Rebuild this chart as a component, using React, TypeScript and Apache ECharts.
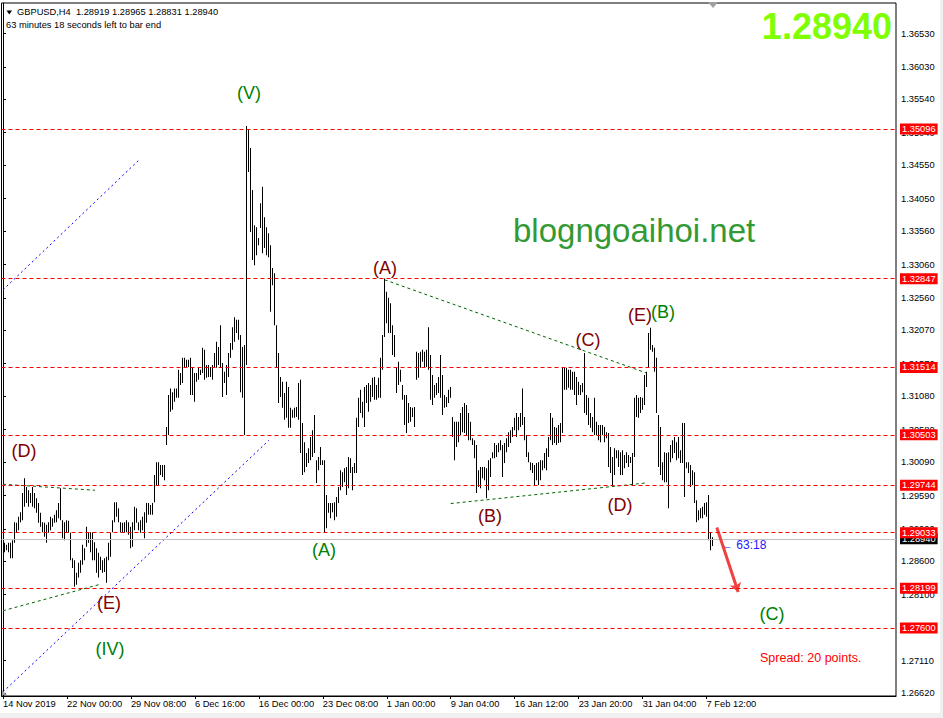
import React, { useEffect, useRef } from 'react';
import * as echarts from 'echarts';

// ---- data (GBPUSD H4 bars: highs / lows) ----
const highs: number[] = [
  1.2888, 1.2888, 1.2885, 1.2888, 1.2888, 1.2892, 1.2919, 1.2918, 1.2927, 1.2934,
  1.2963, 1.2985, 1.2972, 1.2967, 1.2963, 1.2972, 1.2963, 1.2955, 1.2948, 1.2933,
  1.2919, 1.2918, 1.2915, 1.2919, 1.2927, 1.2925, 1.2930, 1.2937, 1.2948, 1.2970,
  1.2922, 1.2919, 1.2922, 1.2921, 1.2903, 1.2865, 1.2862, 1.2843, 1.2858, 1.2862,
  1.2885, 1.2880, 1.2912, 1.2904, 1.2904, 1.2904, 1.2889, 1.2880, 1.2873, 1.2867,
  1.2862, 1.2865, 1.2867, 1.2888, 1.2903, 1.2922, 1.2949, 1.2949, 1.2940, 1.2919,
  1.2918, 1.2919, 1.2922, 1.2919, 1.2912, 1.2919, 1.2942, 1.2940, 1.2919, 1.2922,
  1.2927, 1.2934, 1.2948, 1.2948, 1.2945, 1.2948, 1.2990, 1.3009, 1.3009, 1.3005,
  1.3005, 1.3005, 1.3062, 1.3110, 1.3120, 1.3114, 1.3120, 1.3120, 1.3148, 1.3143,
  1.3166, 1.3166, 1.3163, 1.3163, 1.3166, 1.3151, 1.3143, 1.3143, 1.3151, 1.3148,
  1.3181, 1.3178, 1.3155, 1.3155, 1.3152, 1.3155, 1.3173, 1.3190, 1.3182, 1.3215,
  1.3158, 1.3145, 1.3155, 1.3173, 1.3188, 1.3212, 1.3227, 1.3223, 1.3223, 1.3200,
  1.3182, 1.3185, 1.3514, 1.3508, 1.3481, 1.3418, 1.3365, 1.3362, 1.3346, 1.3398,
  1.3423, 1.3377, 1.3362, 1.3353, 1.3335, 1.3301, 1.3293, 1.3215, 1.3173, 1.3137,
  1.3130, 1.3113, 1.3130, 1.3122, 1.3091, 1.3088, 1.3091, 1.3092, 1.3128, 1.3133,
  1.3068, 1.3039, 1.3023, 1.3030, 1.3047, 1.3057, 1.3080, 1.3012, 1.3017, 1.3032,
  1.3012, 1.3012, 1.2960, 1.2948, 1.2948, 1.2948, 1.2949, 1.2957, 1.2972, 1.2997,
  1.2994, 1.3000, 1.3002, 1.3017, 1.3015, 1.3002, 1.3008, 1.3076, 1.3106, 1.3118,
  1.3100, 1.3122, 1.3125, 1.3128, 1.3125, 1.3136, 1.3137, 1.3125, 1.3136, 1.3166,
  1.3200, 1.3285, 1.3265, 1.3256, 1.3248, 1.3215, 1.3200, 1.3152, 1.3160, 1.3148,
  1.3125, 1.3110, 1.3110, 1.3098, 1.3092, 1.3091, 1.3092, 1.3175, 1.3173, 1.3175,
  1.3178, 1.3175, 1.3178, 1.3212, 1.3170, 1.3140, 1.3125, 1.3128, 1.3137, 1.3170,
  1.3140, 1.3110, 1.3107, 1.3118, 1.3122, 1.3077, 1.3070, 1.3070, 1.3070, 1.3083,
  1.3092, 1.3098, 1.3095, 1.3083, 1.3070, 1.3045, 1.3042, 1.3035, 1.2997, 1.3002,
  1.3002, 1.3002, 1.3000, 1.3012, 1.3015, 1.3024, 1.3038, 1.3035, 1.3038, 1.3042,
  1.3035, 1.3038, 1.3045, 1.3054, 1.3057, 1.3062, 1.3076, 1.3083, 1.3077, 1.3083,
  1.3120, 1.3077, 1.3050, 1.3024, 1.3009, 1.3008, 1.3005, 1.3008, 1.3009, 1.3012,
  1.3012, 1.3023, 1.3030, 1.3047, 1.3083, 1.3076, 1.3062, 1.3061, 1.3065, 1.3068,
  1.3152, 1.3152, 1.3151, 1.3148, 1.3148, 1.3145, 1.3145, 1.3137, 1.3130, 1.3125,
  1.3128, 1.3173, 1.3110, 1.3106, 1.3083, 1.3077, 1.3106, 1.3070, 1.3065, 1.3065,
  1.3065, 1.3062, 1.3054, 1.3053, 1.3032, 1.3017, 1.3030, 1.3027, 1.3027, 1.3024,
  1.3027, 1.3020, 1.3024, 1.3020, 1.3017, 1.3023, 1.3106, 1.3110, 1.3106, 1.3107,
  1.3106, 1.3140, 1.3145, 1.3203, 1.3211, 1.3185, 1.3181, 1.3166, 1.3080, 1.3062,
  1.3009, 1.3024, 1.3023, 1.3024, 1.3035, 1.3042, 1.3047, 1.3039, 1.3047, 1.3027,
  1.3068, 1.3068, 1.3009, 1.3009, 1.3005, 1.2997, 1.2994, 1.2952, 1.2937, 1.2940,
  1.2942, 1.2948, 1.2949, 1.2960, 1.2903, 1.28965,
];

const lows: number[] = [
  1.2836, 1.2874, 1.2877, 1.2874, 1.2865, 1.2865, 1.2888, 1.2903, 1.2907, 1.2919,
  1.2922, 1.2942, 1.2948, 1.2942, 1.2948, 1.2942, 1.2940, 1.2933, 1.2918, 1.2912,
  1.2904, 1.2897, 1.2888, 1.2903, 1.2907, 1.2912, 1.2918, 1.2919, 1.2925, 1.2922,
  1.2895, 1.2892, 1.2903, 1.2903, 1.2862, 1.2850, 1.2822, 1.2825, 1.2836, 1.2843,
  1.2855, 1.2862, 1.2882, 1.2888, 1.2874, 1.2862, 1.2862, 1.2843, 1.2836, 1.2847,
  1.2843, 1.2844, 1.2828, 1.2862, 1.2867, 1.2904, 1.2919, 1.2927, 1.2919, 1.2904,
  1.2903, 1.2903, 1.2904, 1.2900, 1.2880, 1.2882, 1.2907, 1.2918, 1.2907, 1.2903,
  1.2907, 1.2895, 1.2918, 1.2930, 1.2930, 1.2930, 1.2949, 1.2975, 1.2975, 1.2990,
  1.2987, 1.2982, 1.3035, 1.3050, 1.3085, 1.3088, 1.3100, 1.3106, 1.3106, 1.3125,
  1.3128, 1.3151, 1.3151, 1.3152, 1.3110, 1.3110, 1.3100, 1.3130, 1.3133, 1.3140,
  1.3143, 1.3133, 1.3136, 1.3137, 1.3137, 1.3133, 1.3152, 1.3151, 1.3155, 1.3152,
  1.3107, 1.3128, 1.3110, 1.3137, 1.3166, 1.3178, 1.3190, 1.3203, 1.3193, 1.3114,
  1.3106, 1.3050, 1.3155, 1.3445, 1.3355, 1.3313, 1.3305, 1.3320, 1.3335, 1.3361,
  1.3323, 1.3331, 1.3320, 1.3317, 1.3235, 1.3275, 1.3215, 1.3152, 1.3098, 1.3107,
  1.3091, 1.3073, 1.3076, 1.3061, 1.3061, 1.3076, 1.3076, 1.3077, 1.3073, 1.3023,
  1.2990, 1.2994, 1.3002, 1.3008, 1.3012, 1.3017, 1.3023, 1.2978, 1.2997, 1.3005,
  1.3005, 1.2904, 1.2910, 1.2933, 1.2925, 1.2934, 1.2922, 1.2927, 1.2948, 1.2967,
  1.2972, 1.2979, 1.2960, 1.2970, 1.2993, 1.2967, 1.2993, 1.2993, 1.3062, 1.3083,
  1.3076, 1.3062, 1.3098, 1.3085, 1.3100, 1.3107, 1.3103, 1.3103, 1.3106, 1.3106,
  1.3148, 1.3197, 1.3218, 1.3203, 1.3203, 1.3170, 1.3167, 1.3113, 1.3125, 1.3130,
  1.3103, 1.3065, 1.3053, 1.3068, 1.3070, 1.3077, 1.3062, 1.3133, 1.3136, 1.3151,
  1.3160, 1.3152, 1.3152, 1.3148, 1.3103, 1.3095, 1.3106, 1.3110, 1.3113, 1.3106,
  1.3080, 1.3091, 1.3092, 1.3098, 1.3106, 1.3047, 1.3012, 1.3032, 1.3039, 1.3050,
  1.3054, 1.3053, 1.3050, 1.3042, 1.3042, 1.3035, 1.3015, 1.2963, 1.2972, 1.2970,
  1.2985, 1.2982, 1.2955, 1.2967, 1.2987, 1.3015, 1.3015, 1.3017, 1.3024, 1.3027,
  1.2987, 1.3008, 1.3024, 1.3032, 1.3038, 1.3047, 1.3057, 1.3047, 1.3057, 1.3062,
  1.3065, 1.3042, 1.3017, 1.3009, 1.2997, 1.2993, 1.2975, 1.2982, 1.2975, 1.2982,
  1.2997, 1.3000, 1.2997, 1.3017, 1.3042, 1.3035, 1.3038, 1.3035, 1.3038, 1.3039,
  1.3053, 1.3118, 1.3118, 1.3121, 1.3118, 1.3118, 1.3110, 1.3095, 1.3110, 1.3110,
  1.3114, 1.3083, 1.3080, 1.3065, 1.3061, 1.3054, 1.3050, 1.3050, 1.3042, 1.3039,
  1.3050, 1.3039, 1.3045, 1.3002, 1.2993, 1.2975, 1.2990, 1.3015, 1.3002, 1.2990,
  1.2990, 1.3000, 1.3008, 1.3002, 1.3008, 1.2975, 1.3017, 1.3077, 1.3076, 1.3083,
  1.3088, 1.3095, 1.3122, 1.3152, 1.3178, 1.3175, 1.3145, 1.3083, 1.3002, 1.2990,
  1.2982, 1.2979, 1.2979, 1.2940, 1.3009, 1.3015, 1.3023, 1.3012, 1.3015, 1.3008,
  1.3008, 1.2957, 1.3000, 1.2993, 1.2972, 1.2975, 1.2948, 1.2919, 1.2922, 1.2925,
  1.2925, 1.2930, 1.2927, 1.2892, 1.2877, 1.28831,
];

const timeLabels: string[] = [
  '14 Nov 2019', '22 Nov 00:00', '29 Nov 08:00', '6 Dec 16:00', '16 Dec 00:00', '23 Dec 08:00',
  '1 Jan 00:00', '9 Jan 04:00', '16 Jan 12:00', '23 Jan 20:00', '31 Jan 04:00', '7 Feb 12:00',
];
const barsPerLabel = 32;

const priceTicks: number[] = [
  1.3653, 1.3603, 1.3554, 1.3504, 1.3455, 1.3405, 1.3356, 1.3306, 1.3256, 1.3207, 1.3157,
  1.3108, 1.3058, 1.3009, 1.2959, 1.2909, 1.286, 1.281, 1.276, 1.2711, 1.2662,
];

const levels: number[] = [1.35096, 1.32847, 1.31514, 1.30503, 1.29744, 1.29033, 1.28199, 1.276];
const currentPrice = 1.2894;
const header = 'GBPUSD,H4\u00a0\u00a01.28919 1.28965 1.28831 1.28940';
const timerText = '63 minutes 18 seconds left to bar end';

// trend lines [barIndex, price]
const blueUpper: number[][] = [[0, 1.3268], [68, 1.3463]];
const blueLower: number[][] = [[0, 1.2664], [133, 1.3042]];
const greenDUpper: number[][] = [[0, 1.2976], [46, 1.2967]];
const greenDLower: number[][] = [[0, 1.2786], [49, 1.2826]];
const greenACUpper: number[][] = [[191, 1.3283], [322, 1.3143]];
const greenBDLower: number[][] = [[224, 1.2947], [322, 1.2978]];
const redArrow: number[][] = [[357.1, 1.2911], [367.8, 1.2814]];

const FONT = '"Liberation Sans", Arial, sans-serif';
const MAROON = '#800000';
const GREEN = '#008000';

const waveLabels: { t: string; x: number; y: number; c: string }[] = [
  { t: '(V)', x: 249, y: 93, c: GREEN },
  { t: '(A)', x: 385, y: 268, c: MAROON },
  { t: '(C)', x: 588, y: 340, c: MAROON },
  { t: '(E)', x: 640, y: 315, c: MAROON },
  { t: '(B)', x: 663, y: 312, c: GREEN },
  { t: '(D)', x: 24, y: 451, c: MAROON },
  { t: '(E)', x: 109, y: 603, c: MAROON },
  { t: '(IV)', x: 110, y: 649, c: GREEN },
  { t: '(A)', x: 324, y: 550, c: GREEN },
  { t: '(B)', x: 490, y: 516, c: MAROON },
  { t: '(D)', x: 620, y: 505, c: MAROON },
  { t: '(C)', x: 772, y: 614, c: GREEN },
];

function trendSeries(data: number[][], color: string, dash: number[], extra: any = {}) {
  return {
    type: 'line',
    data,
    symbol: 'none',
    silent: true,
    lineStyle: { color, width: 1, type: dash },
    z: 3,
    ...extra,
  };
}

function levelSeries(value: number, lineColor: string, boxColor: string, dash: any, z: number) {
  return {
    type: 'line',
    data: [[0, value]],
    symbol: 'none',
    silent: true,
    lineStyle: { opacity: 0 },
    z,
    markLine: {
      silent: true,
      symbol: 'none',
      precision: 5,
      animation: false,
      z,
      lineStyle: { color: lineColor, type: dash, width: 1, opacity: 1 },
      label: {
        show: true,
        position: 'end',
        distance: 4,
        formatter: value.toFixed(5),
        color: '#fff',
        backgroundColor: boxColor,
        fontSize: 9.3,
        fontFamily: FONT,
        padding: [1, 2, 0, 2],
        lineHeight: 10,
      },
      emphasis: { disabled: true },
      data: [{ yAxis: value }],
    },
  };
}

export default function App() {
  const ref = useRef<HTMLDivElement>(null);
  useEffect(() => {
    const chart = echarts.init(ref.current!, null, { renderer: 'svg' });
    const bars = highs.map((h, i) => [i, h, lows[i]]);

    const graphics: any[] = [
      { type: 'rect', shape: { x: 0, y: 713, width: 943, height: 5 }, style: { fill: '#f0f0f0' }, z: 100 },
      { type: 'rect', shape: { x: 940, y: 0, width: 3, height: 718 }, style: { fill: '#f0f0f0' }, z: 100 },
      { type: 'polygon', shape: { points: [[6.5, 10.5], [12, 10.5], [9.25, 14.5]] }, style: { fill: '#000' } },
      { type: 'polygon', shape: { points: [[708, 2], [718, 2], [713, 8]] }, style: { fill: '#a0a0a0' }, z: 50 },
      { type: 'polygon', shape: { points: [[2, 690], [2, 695], [7, 695]] }, style: { fill: '#a0a0a0' }, z: 50 },
      {
        type: 'text', x: 17, y: 12,
        style: { text: header, fill: '#000', font: `9.3px ${FONT}`, textAlign: 'left', textVerticalAlign: 'middle' },
      },
      {
        type: 'text', x: 6, y: 24.5,
        style: { text: timerText, fill: '#000', font: `9.3px ${FONT}`, textAlign: 'left', textVerticalAlign: 'middle' },
      },
      {
        type: 'text', x: 892, y: 26,
        style: { text: currentPrice.toFixed(5), fill: '#80ff00', font: `bold 36px ${FONT}`, textAlign: 'right', textVerticalAlign: 'middle' },
        z: 60,
      },
      {
        type: 'text', x: 513, y: 230,
        style: { text: 'blogngoaihoi.net', fill: '#339933', font: `33px ${FONT}`, textAlign: 'left', textVerticalAlign: 'middle' },
      },
      {
        type: 'text', x: 760, y: 658,
        style: { text: 'Spread: 20 points.', fill: '#ff0000', font: `12.5px ${FONT}`, textAlign: 'left', textVerticalAlign: 'middle' },
      },
      {
        type: 'text', x: 721, y: 545,
        style: { text: '← 63:18', fill: '#2020ff', font: `12px ${FONT}`, textAlign: 'left', textVerticalAlign: 'middle' },
      },
      ...waveLabels.map((w) => ({
        type: 'text', x: w.x, y: w.y,
        style: { text: w.t, fill: w.c, font: `18px ${FONT}`, textAlign: 'center', textVerticalAlign: 'middle' },
      })),
    ];

    chart.setOption({
      animation: false,
      backgroundColor: '#fff',
      grid: { left: 1, top: 3, width: 895, height: 693, show: true, borderColor: '#000', borderWidth: 1, backgroundColor: 'transparent' },
      xAxis: {
        type: 'value',
        min: -0.75,
        max: 446.75,
        position: 'bottom',
        axisLine: { show: true, onZero: false, lineStyle: { color: '#000', width: 1 } },
        axisTick: { show: true, length: 3, lineStyle: { color: '#000' }, customValues: timeLabels.map((_, k) => k * barsPerLabel) },
        axisLabel: {
          show: true,
          customValues: timeLabels.map((_, k) => k * barsPerLabel),
          formatter: (v: number) => timeLabels[Math.round(v / barsPerLabel)] ?? '',
          align: 'left',
          margin: 3,
          color: '#000',
          fontSize: 9.3,
          fontFamily: FONT,
        },
        splitLine: { show: false },
      },
      yAxis: {
        type: 'value',
        position: 'right',
        min: 1.26579,
        max: 1.36989,
        scale: true,
        axisLine: { show: true, lineStyle: { color: '#000', width: 1 } },
        axisTick: { show: true, length: 3, lineStyle: { color: '#000' }, customValues: priceTicks },
        axisLabel: {
          show: true,
          customValues: priceTicks,
          formatter: (v: number) => v.toFixed(5),
          margin: 5,
          color: '#000',
          fontSize: 9.3,
          fontFamily: FONT,
        },
        splitLine: { show: false },
      },
      series: [
        {
          type: 'custom',
          data: bars,
          encode: { x: 0, y: [1, 2] },
          silent: true,
          z: 2,
          renderItem: (params: any, api: any) => {
            const i = api.value(0);
            const top = api.coord([i, api.value(1)]);
            const bot = api.coord([i, api.value(2)]);
            const x = Math.floor(top[0]);
            return {
              type: 'rect',
              shape: { x, y: top[1], width: 1, height: Math.max(1, bot[1] - top[1]) },
              style: { fill: '#000' },
            };
          },
        },
        levelSeries(currentPrice, '#c0c0c0', '#000000', 'solid', 4),
        ...levels.map((v, k) => levelSeries(v, '#ff0000', '#ff0000', [4, 3], 5 + k)),
        trendSeries(blueUpper, '#0000ff', [2, 3]),
        trendSeries(blueLower, '#0000ff', [2, 3]),
        trendSeries(greenDUpper, '#006400', [3, 3]),
        trendSeries(greenDLower, '#006400', [3, 3]),
        trendSeries(greenACUpper, '#006400', [3, 3]),
        trendSeries(greenBDLower, '#006400', [3, 3], {
          markLine: {
            silent: true,
            symbol: ['none', 'arrow'],
            symbolSize: 9,
            precision: 5,
            animation: false,
            label: { show: false },
            lineStyle: { color: '#f04040', width: 3, type: 'solid' },
            data: [[{ coord: redArrow[0] }, { coord: redArrow[1] }]],
          },
        }),
      ],
      graphic: graphics,
    });
    return () => chart.dispose();
  }, []);
  return (
    <div
      ref={ref}
      style={{ position: 'fixed', left: 0, top: 0, width: 943, height: 718, background: '#fff' }}
    />
  );
}
